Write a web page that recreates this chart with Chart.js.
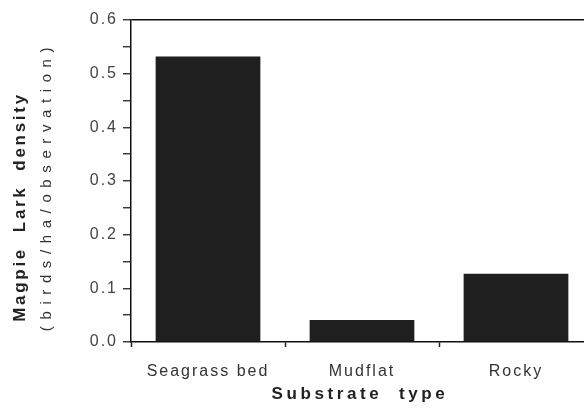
<!DOCTYPE html>
<html>
<head>
<meta charset="utf-8">
<script src="https://cdn.jsdelivr.net/npm/chart.js@4"></script>
<style>
  html, body { margin: 0; padding: 0; background: #fff; overflow: hidden; }
  #wrap { width: 584px; height: 412px; overflow: hidden; }
</style>
</head>
<body>
<div id="wrap"><canvas id="bar-chart" width="600" height="412"></canvas></div>
<script>
// substrate types and Magpie Lark density
var substrates = ["Seagrass bed", "Mudflat", "Rocky"];
var density = [0.532, 0.041, 0.127];
var yMin = 0;
var yMax = 0.6;
var yStep = 0.05;

var fontFamily = "'Liberation Sans', Arial, Helvetica, sans-serif";

var textPlugin = {
    id: 'textPlugin',
    beforeUpdate: function (chart) { chart.ctx.letterSpacing = '2px'; },
    beforeDraw: function (chart) {
        var ctx = chart.ctx;
        ctx.letterSpacing = '2px';
        ctx.save();
        ctx.fillStyle = '#fff';
        ctx.fillRect(0, 0, chart.width, chart.height);
        ctx.restore();
    },
    afterDraw: function (chart) {
        var ctx = chart.ctx;
        var area = chart.chartArea;
        var mid = (area.top + area.bottom) / 2;
        ctx.save();
        ctx.fillStyle = '#222';
        ctx.textAlign = 'center';
        ctx.textBaseline = 'middle';
        // y title, two lines
        ctx.save();
        ctx.translate(20, mid + 26);
        ctx.rotate(-Math.PI / 2);
        ctx.font = 'bold 17px ' + fontFamily;
        ctx.letterSpacing = '2.7px';
        ctx.fillText('Magpie  Lark  density', 0, 0);
        ctx.restore();
        ctx.save();
        ctx.translate(47, mid + 5);
        ctx.rotate(-Math.PI / 2);
        ctx.font = '15px ' + fontFamily;
        ctx.fillStyle = '#333';
        ctx.letterSpacing = '6.6px';
        ctx.fillText('(birds/ha/observation)', 0, 0);
        ctx.restore();
        // x title
        ctx.font = 'bold 17px ' + fontFamily;
        ctx.letterSpacing = '3.6px';
        ctx.textBaseline = 'alphabetic';
        ctx.fillText('Substrate  type', (area.left + area.right) / 2 - 2, area.bottom + 57);
        ctx.restore();
    }
};

var chart = new Chart(document.getElementById("bar-chart"), {
    type: 'bar',
    data: {
        labels: substrates,
        datasets: [{
            data: density,
            backgroundColor: '#1f1f1f',
            borderWidth: 0,
            barPercentage: 0.68,
            categoryPercentage: 1.0
        }]
    },
    plugins: [textPlugin],
    options: {
        responsive: false,
        animation: false,
        layout: { padding: { top: 20, right: 7, left: 0, bottom: 0 } },
        plugins: {
            legend: { display: false },
            title: { display: false },
            tooltip: { enabled: false }
        },
        scales: {
            x: {
                afterFit: function (scale) { scale.height = 70; },
                border: { display: true, color: '#111', width: 1.5 },
                grid: {
                    display: true,
                    offset: true,
                    drawOnChartArea: false,
                    drawTicks: true,
                    tickLength: 5,
                    tickColor: '#222',
                    tickWidth: 1.5
                },
                ticks: {
                    color: '#333',
                    padding: 15,
                    font: { family: fontFamily, size: 16 }
                }
            },
            y: {
                min: yMin,
                max: yMax,
                afterFit: function (scale) { scale.width = 131; },
                border: { display: true, color: '#111', width: 1.5 },
                grid: {
                    drawOnChartArea: true,
                    color: function (ctx) {
                        return (ctx.tick && Math.abs(ctx.tick.value - yMax) < 1e-6) ? '#111' : 'rgba(0,0,0,0)';
                    },
                    lineWidth: 1.5,
                    tickColor: '#222',
                    tickWidth: 1.3,
                    tickLength: 8
                },
                ticks: {
                    stepSize: yStep,
                    padding: 5,
                    color: '#444',
                    font: { family: fontFamily, size: 16 },
                    callback: function (value) {
                        var r = Math.round(value * 100);
                        return (r % 10 === 0) ? (r / 100).toFixed(1) : '';
                    }
                }
            }
        }
    }
});
</script>
</body>
</html>
